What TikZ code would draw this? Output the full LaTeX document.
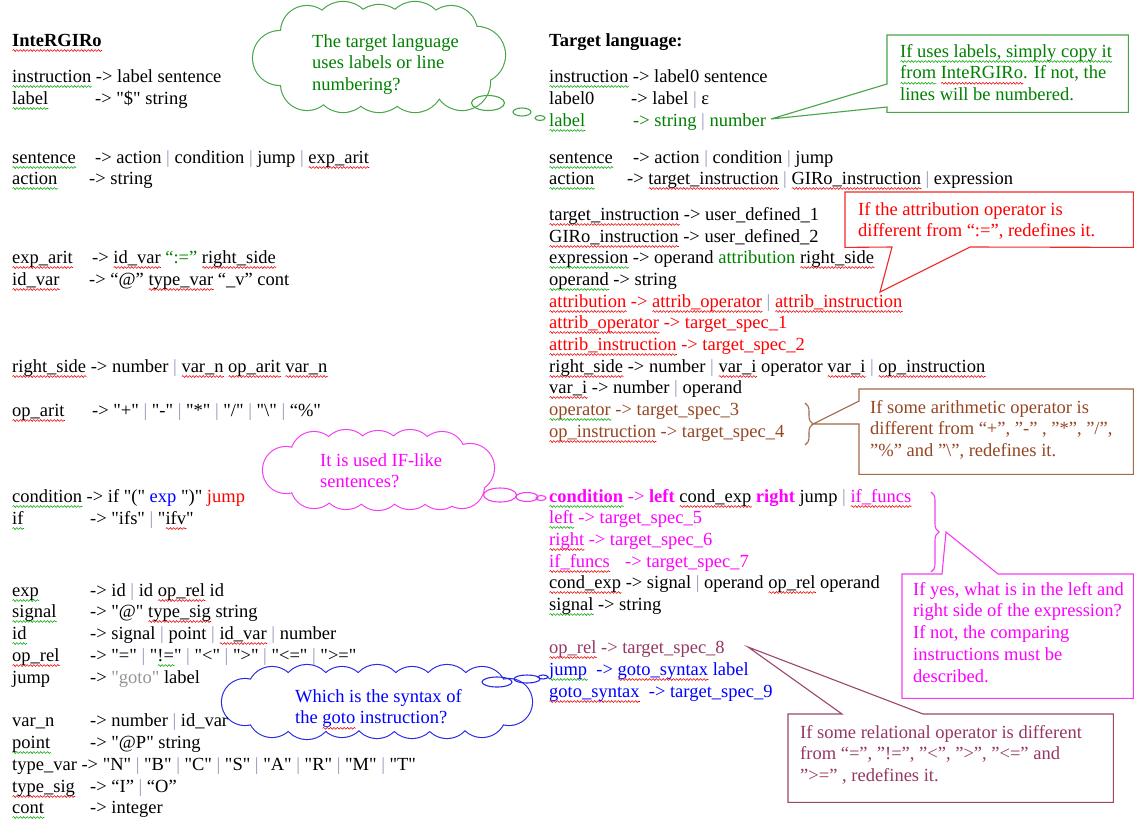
\documentclass[tikz,border=0pt]{standalone}
\usepackage{fontspec}
% plain family: keeps straight double quotes as typed
\newfontfamily\gserif{Liberation Serif}
\setmainfont{Liberation Serif}
\usetikzlibrary{shapes.geometric,decorations.pathreplacing,decorations.pathmorphing}

% colours of the grammar text and of the notes
\definecolor{gtext}{RGB}{0,128,0}
\definecolor{gline}{RGB}{70,165,70}
\definecolor{rtext}{RGB}{255,0,0}
\definecolor{rline}{RGB}{240,40,40}
\definecolor{btext}{RGB}{150,70,35}
\definecolor{bline}{RGB}{165,105,75}
\definecolor{mtext}{RGB}{255,0,255}
\definecolor{mline}{RGB}{245,60,245}
\definecolor{vtext}{RGB}{150,55,100}
\definecolor{vline}{RGB}{155,70,110}
\definecolor{utext}{RGB}{0,0,255}
\definecolor{uline}{RGB}{40,40,230}
\definecolor{gotogray}{RGB}{150,150,150}
\definecolor{barc}{RGB}{150,150,190}
\definecolor{wred}{RGB}{235,0,0}
\definecolor{wgreen}{RGB}{0,170,0}

% wavy proof-reading underline drawn below a piece of text
\newsavebox\wavebox
\newlength\wavelen
\newcommand\wavy[2]{\sbox\wavebox{#2}\setlength\wavelen{\wd\wavebox}%
  \rlap{\raisebox{-4.5pt}[0pt][0pt]{\tikz[x=1pt,y=1pt,baseline=0pt]
    \draw[#1,line width=0.55pt,decorate,
      decoration={snake,amplitude=0.9pt,segment length=3.4pt}]
      (0pt,0pt) -- (\wavelen,0pt);}}%
  \usebox\wavebox}
\newcommand\rw[1]{\wavy{wred}{#1}}
\newcommand\gw[1]{\wavy{wgreen}{#1}}
% separator bar, left-hand side in a fixed-width slot, stacked lines
\newcommand\vb{\textcolor{barc}{|}}
\newcommand\lhs[2]{\makebox[#1pt][l]{#2}}
\newcommand\rows[1]{\begin{tabular}[t]{@{}l@{}}#1\end{tabular}}
\newcommand\gfont{\gserif\fontsize{18.5}{21.8}\selectfont}

% puffs of the three thought clouds
\newcommand\gpuffs{(477,55) circle[radius=28] (451,32) circle[radius=26]
  (415,31) circle[radius=29] (379,33) circle[radius=28] (343,31) circle[radius=29]
  (307,32) circle[radius=26] (280,58) circle[radius=27] (307,84) circle[radius=26]
  (343,84) circle[radius=28] (379,83) circle[radius=29] (415,84) circle[radius=28]
  (462,82) circle[radius=28] (379,58) ellipse[x radius=99, y radius=25]}
\newcommand\mpuffs{(470,468) circle[radius=24] (442,455) circle[radius=23]
  (410,454) circle[radius=24] (378,455) circle[radius=24] (346,454) circle[radius=24]
  (314,455) circle[radius=23] (286,470) circle[radius=23] (314,485) circle[radius=23]
  (346,485) circle[radius=24] (378,486) circle[radius=24] (410,485) circle[radius=24]
  (440,486) circle[radius=23] (462,486) circle[radius=22]
  (378,470) ellipse[x radius=92, y radius=15]}
\newcommand\upuffs{(509,702) circle[radius=23] (482,691) circle[radius=24]
  (447,690) circle[radius=25] (412,691) circle[radius=24] (377,690) circle[radius=25]
  (342,691) circle[radius=24] (307,690) circle[radius=25] (272,691) circle[radius=24]
  (245,702) circle[radius=23] (272,713) circle[radius=24] (307,714) circle[radius=25]
  (342,713) circle[radius=24] (377,714) circle[radius=24] (412,713) circle[radius=25]
  (447,714) circle[radius=24] (482,713) circle[radius=24]
  (377,702) ellipse[x radius=132, y radius=11]}

\begin{document}
\begin{tikzpicture}[x=1pt,y=-1pt,
  gram/.style={anchor=base west, inner sep=0pt, font=\gfont},
  cl/.style={line width=1.1pt, line join=miter},
  boxn/.style={anchor=north west, inner sep=0pt},
  bub/.style={ellipse, draw, inner sep=0pt, line width=1.1pt},
  puffline/.style={line width=2.2pt}]
\fill[white] (0,0) rectangle (1134,819);
\useasboundingbox (0,0) rectangle (1134,819);

% ---------------- thought clouds (drawn first, text goes on top) ----------------
% a thick outline of every puff, then a white fill of the union leaves the outer rim
\draw[puffline, gline] \gpuffs;
\fill[white] \gpuffs;
\draw[puffline, mline] \mpuffs;
\fill[white] \mpuffs;
\draw[puffline, uline] \upuffs;
\fill[white] \upuffs;
\coordinate (gcloud) at (379,58);
\coordinate (mcloud) at (378,470);
\coordinate (ucloud) at (377,702);

\node[bub, draw=gline, minimum width=33pt, minimum height=15pt] (gb1) at (488,103) {};
\node[bub, draw=gline, minimum width=18pt, minimum height=8pt] (gb2) at (522,112) {};
\node[bub, draw=gline, minimum width=10pt, minimum height=5pt] (gb3) at (540,118) {};
\node[gram,text=gtext] (gctext) at (312,47) {\rows{The target language\\ uses labels or line\\ numbering?}};

\node[bub, draw=mline, minimum width=33pt, minimum height=14pt] (mb1) at (500,495) {};
\node[bub, draw=mline, minimum width=22pt, minimum height=9pt] (mb2) at (527,497) {};
\node[bub, draw=mline, minimum width=10pt, minimum height=5pt] (mb3) at (541,498) {};
\node[gram,text=mtext] (mctext) at (320,466) {\rows{It is used IF-like\\ sentences?}};

\node[bub, draw=uline, minimum width=30pt, minimum height=10pt] (ub1) at (497,682) {};
\node[bub, draw=uline, minimum width=26pt, minimum height=8pt] (ub2) at (527,679) {};
\node[bub, draw=uline, minimum width=10pt, minimum height=4pt] (ub3) at (543,677) {};
\node[gram,text=utext] (uctext) at (295,702) {\rows{Which is the syntax of\\ the \rw{goto} instruction?}};

% ---------------- InteRGIRo grammar ----------------
\node[gram] (ltitle) at (12,46) {\textbf{\rw{InteRGIRo}}};
\node[gram] (l1) at (12,82) {\gw{instruction} -> label sentence};
\node[gram] (l2) at (12,104) {\lhs{83}{\gw{label}}-> "\$" string};
\node[gram] (l3) at (12,163) {\lhs{83}{\gw{sentence}}-> action \vb{} condition \vb{} jump \vb{} \rw{exp\_arit}};
\node[gram] (l4) at (12,184) {\lhs{77}{\gw{action}}-> string};
\node[gram] (l5) at (12,263) {\lhs{80}{\rw{exp\_arit}}-> \rw{id\_var} \textcolor{gtext}{“:=”} \rw{right\_side}};
\node[gram] (l6) at (12,285) {\lhs{77}{\rw{id\_var}}-> “@” \rw{type\_var} “\_v” cont};
\node[gram] (l7) at (12,372) {\rw{right\_side} -> number \vb{} \rw{var\_n} \rw{op\_arit} \rw{var\_n}};
\node[gram] (l8) at (12,416) {\lhs{80}{\rw{op\_arit}}-> "+" \vb{} "-" \vb{} "*" \vb{} "/" \vb{} "\textbackslash" \vb{} “\%"};
\node[gram] (l9) at (12,502) {\gw{condition} -> if "(" \textcolor{utext}{exp} ")" \textcolor{rtext}{jump}};
\node[gram] (l10) at (12,524) {\lhs{78}{\gw{if}}-> "ifs" \vb{} "\rw{ifv}"};
\node[gram] (l11) at (12,596) {\lhs{78}{\gw{exp}}-> id \vb{} id \rw{op\_rel} id};
\node[gram] (l12) at (12,617) {\lhs{78}{\gw{signal}}-> "@" \rw{type\_sig} string};
\node[gram] (l13) at (12,639) {\lhs{78}{\gw{id}}-> signal \vb{} point \vb{} \rw{id\_var} \vb{} number};
\node[gram] (l14) at (12,661) {\lhs{78}{\rw{op\_rel}}-> "=" \vb{} "\gw{!=}" \vb{} "<" \vb{} ">" \vb{} "<=" \vb{} ">="};
\node[gram] (l15) at (12,683) {\lhs{78}{jump}-> \textcolor{gotogray}{"goto"} label};
\node[gram] (l16) at (12,726) {\lhs{78}{var\_n}-> number \vb{} id\_var};
\node[gram] (l17) at (12,748) {\lhs{78}{\gw{point}}-> "@P" string};
\node[gram] (l18) at (12,770) {type\_var -> "N" \vb{} "B" \vb{} "C" \vb{} "S" \vb{} "A" \vb{} "R" \vb{} "M" \vb{} "T"};
\node[gram] (l19) at (12,792) {\lhs{78}{\rw{type\_sig}}-> “I” \vb{} “O”};
\node[gram] (l20) at (12,813) {\lhs{78}{\gw{cont}}-> integer};

% ---------------- target language grammar ----------------
\node[gram] (rtitle) at (549,46) {\textbf{Target language:}};
\node[gram] (r1) at (549,82) {\gw{instruction} -> label0 sentence};
\node[gram] (r2) at (549,104) {\lhs{82}{label0}-> label \vb{} ε};
\node[gram,text=gtext] (r3) at (549,126) {\lhs{84}{\gw{label}}-> string \vb{} number};
\node[gram] (r4) at (549,163) {\lhs{84}{\gw{sentence}}-> action \vb{} condition \vb{} jump};
\node[gram] (r5) at (549,184) {\lhs{78}{\gw{action}}-> \rw{target\_instruction} \vb{} \rw{GIRo\_instruction} \vb{} expression};
\node[gram] (r6) at (549,220) {\rw{target\_instruction} -> user\_defined\_1};
\node[gram] (r7) at (549,242) {\rw{GIRo\_instruction} -> user\_defined\_2};
\node[gram] (r8) at (549,263) {\gw{expression} -> operand \textcolor{gtext}{attribution} \rw{right\_side}};
\node[gram] (r9) at (549,285) {\gw{operand} -> string};
\node[gram,text=rtext] (r10) at (549,307) {\rw{attribution} -> \rw{attrib\_operator} \vb{} \rw{attrib\_instruction}};
\node[gram,text=rtext] (r11) at (549,328) {\rw{attrib\_operator} -> target\_spec\_1};
\node[gram,text=rtext] (r12) at (549,350) {\rw{attrib\_instruction} -> target\_spec\_2};
\node[gram] (r13) at (549,372) {\rw{right\_side} -> number \vb{} \rw{var\_i} operator \rw{var\_i} \vb{} \rw{op\_instruction}};
\node[gram] (r14) at (549,393) {\rw{var\_i} -> number \vb{} operand};
\node[gram,text=btext] (r15) at (549,415) {\gw{operator} -> target\_spec\_3};
\node[gram,text=btext] (r16) at (549,437) {\rw{op\_instruction} -> target\_spec\_4};
\node[gram] (r17) at (549,502) {\textcolor{mtext}{\textbf{\gw{condition}} -> \textbf{left}} \rw{cond\_exp} \textcolor{mtext}{\textbf{right}} jump \vb{} \textcolor{mtext}{\rw{if\_funcs}}};
\node[gram,text=mtext] (r18) at (549,523) {\gw{left} -> target\_spec\_5};
\node[gram,text=mtext] (r19) at (549,545) {\rw{right} -> target\_spec\_6};
\node[gram,text=mtext] (r20) at (549,567) {\lhs{76}{\rw{if\_funcs}}-> target\_spec\_7};
\node[gram] (r21) at (549,588) {\rw{cond\_exp} -> signal \vb{} operand \rw{op\_rel} operand};
\node[gram] (r22) at (549,610) {\gw{signal} -> string};
\node[gram,text=vtext] (r23) at (549,653) {\rw{op\_rel} -> target\_spec\_8};
\node[gram,text=utext] (r24) at (549,675) {\gw{jump}\ \ -> \rw{goto\_syntax} label};
\node[gram,text=utext] (r25) at (549,697) {\rw{goto\_syntax}\ \ -> target\_spec\_9};

% ---------------- callout boxes ----------------
% labels note
\node[boxn, minimum width=241pt, minimum height=77pt] (gbox) at (887,35) {};
\coordinate (gtip) at (771,119);
\coordinate (gb-a) at (887,84);
\coordinate (gb-b) at (887,107);
\draw[cl, gline, fill=white] (gbox.north west) -- (gbox.north east) -- (gbox.south east)
  -- (gbox.south west) -- (gb-b) -- (gtip) -- (gb-a) -- cycle;
\node[gram,text=gtext] (gtext) at (900,57) {\rows{\gw{If uses labels, simply copy it}\\ \gw{from} \rw{InteRGIRo}. If not, the\\ lines will be numbered.}};

% attribution note
\node[boxn, minimum width=288pt, minimum height=55pt] (rbox) at (845,192) {};
\coordinate (rtip) at (880,292);
\coordinate (rb-a) at (892,247);
\coordinate (rb-b) at (970,247);
\draw[cl, rline, fill=white] (rbox.north west) -- (rbox.north east) -- (rbox.south east)
  -- (rb-b) -- (rtip) -- (rb-a) -- (rbox.south west) -- cycle;
\node[gram,text=rtext] (rtext) at (858,215) {\rows{If the attribution operator is\\ different from “:=”, redefines it.}};

% arithmetic operator note
\node[boxn, minimum width=274pt, minimum height=85pt] (bbox) at (859,389) {};
\coordinate (btip) at (813,424);
\coordinate (bb-a) at (859,401);
\coordinate (bb-b) at (859,424);
\draw[cl, bline, decorate, decoration={brace, amplitude=8pt}] (805,403) -- (805,445);
\draw[cl, bline, fill=white] (bbox.north west) -- (bbox.north east) -- (bbox.south east)
  -- (bbox.south west) -- (bb-b) -- (btip) -- (bb-a) -- cycle;
\node[gram,text=btext] (btext) at (870,413) {\rows{If some arithmetic operator is\\ different from “+”, ”-” , ”*”, ”/”,\\ ”\%” and ”\textbackslash”, redefines it.}};

% condition note
\node[boxn, minimum width=231pt, minimum height=124pt] (mbox) at (902,574) {};
\coordinate (mtip) at (946,532);
\coordinate (mb-a) at (942,574);
\coordinate (mb-b) at (998,574);
\draw[cl, mline, decorate, decoration={brace, amplitude=8pt}] (931,492) -- (931,572);
\draw[cl, mline, fill=white] (mbox.north west) -- (mb-a) -- (mtip) -- (mb-b)
  -- (mbox.north east) -- (mbox.south east) -- (mbox.south west) -- cycle;
\node[gram,text=mtext] (mtext) at (913,595) {\rows{If yes, what is in the left and\\ right side of the expression?\\ If not, the comparing\\ instructions must be\\ described.}};

% relational operator note
\node[boxn, minimum width=325pt, minimum height=88pt] (vbox) at (788,714) {};
\coordinate (vtip) at (748,647);
\coordinate (vb-a) at (842,714);
\coordinate (vb-b) at (923,714);
\draw[cl, vline, fill=white] (vbox.north west) -- (vb-a) -- (vtip) -- (vb-b)
  -- (vbox.north east) -- (vbox.south east) -- (vbox.south west) -- cycle;
\node[gram,text=vtext] (vtext) at (800,738) {\rows{If some relational operator is different\\ from “=”, ”!=”, ”<”, ”>”, ”<=” and\\ ”>=” , redefines it.}};
\end{tikzpicture}
\end{document}
